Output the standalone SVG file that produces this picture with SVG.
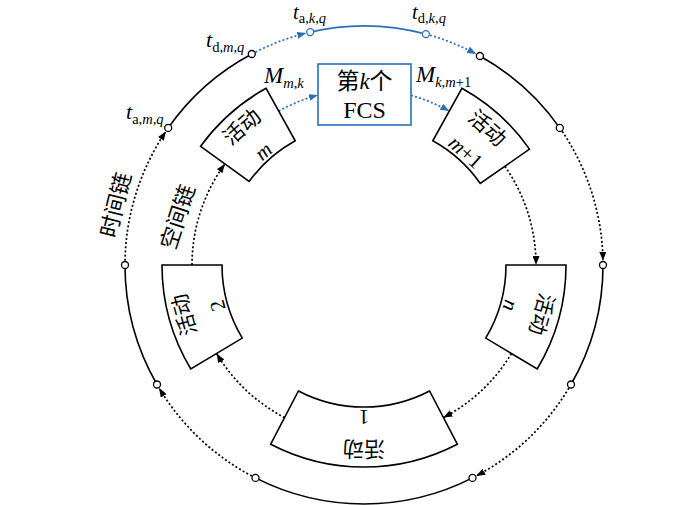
<svg xmlns="http://www.w3.org/2000/svg" width="700" height="505" viewBox="0 0 700 505">
<style>
.box{fill:#fff;stroke:#000;stroke-width:1.6}
.solid{fill:none;stroke:#000;stroke-width:1.6}
.solidb{fill:none;stroke:#2a6fb8;stroke-width:1.6}
.dot{fill:none;stroke:#000;stroke-width:1.7;stroke-dasharray:2 2.2}
.dotb{fill:none;stroke:#2a6fb8;stroke-width:1.7;stroke-dasharray:2 2.2}
.node{fill:#fff;stroke:#000;stroke-width:1.3}
.nodeb{fill:#fff;stroke:#2a6fb8;stroke-width:1.3}
text{font-family:"Liberation Serif","Noto Sans CJK SC",serif;fill:#000}
.c{text-anchor:middle;dominant-baseline:central;font-size:21px}
.i{font-style:italic}
.sub{font-size:14.5px}
.lbl{font-size:22px}
.lbt{font-size:20.5px}
.ml{font-size:23px}
</style>
<defs>
<marker id="ah" viewBox="0 0 9 7" refX="9" refY="3.5" markerWidth="9" markerHeight="7" orient="auto" markerUnits="userSpaceOnUse"><path d="M0,0 L9,3.5 L0,7 z" fill="#000"/></marker>
<marker id="ahb" viewBox="0 0 9 7" refX="9" refY="3.5" markerWidth="9" markerHeight="7" orient="auto" markerUnits="userSpaceOnUse"><path d="M0,0 L9,3.5 L0,7 z" fill="#2a6fb8"/></marker>
</defs>

<g id="connectors">
<path class="solid" d="M168.2,127.9 A239,239 0 0 1 251.8,54"/>
<path class="solidb" d="M310.2,32.1 A239,239 0 0 1 425.9,34.1"/>
<path class="solid" d="M479.9,56 A239,239 0 0 1 559.8,127.9"/>
<path class="solid" d="M603,265 A239,239 0 0 1 571,384.5"/>
<path class="solid" d="M472.5,477.9 A239,239 0 0 1 255.5,477.9"/>
<path class="solid" d="M157,384.5 A239,239 0 0 1 125,265"/>
<path class="dot" marker-end="url(#ah)" d="M125,265 A239,239 0 0 1 165.9,131.4"/>
<path class="dotb" marker-end="url(#ahb)" d="M251.8,54 A239,239 0 0 1 306.2,33.1"/>
<path class="dotb" marker-end="url(#ahb)" d="M425.9,34.1 A239,239 0 0 1 476.2,54"/>
<path class="dot" marker-end="url(#ah)" d="M559.8,127.9 A239,239 0 0 1 603,260.8"/>
<path class="dot" marker-end="url(#ah)" d="M571,384.5 A239,239 0 0 1 476.2,476"/>
<path class="dot" marker-end="url(#ah)" d="M255.5,477.9 A239,239 0 0 1 159.1,388.1"/>
<path class="dot" marker-end="url(#ah)" d="M192,265 A172,172 0 0 1 224.9,163.9"/>
<path class="dotb" marker-end="url(#ahb)" d="M278.7,111.1 A176,176 0 0 1 318,95.1"/>
<path class="dotb" marker-end="url(#ahb)" d="M411,95.4 A176,176 0 0 1 449.3,111.1"/>
<path class="dot" marker-end="url(#ah)" d="M504.9,166.3 A172,172 0 0 1 536,265"/>
<path class="dot" marker-end="url(#ah)" d="M511.4,353.6 A172,172 0 0 1 443.4,417.6"/>
<path class="dot" marker-end="url(#ah)" d="M284.6,417.6 A172,172 0 0 1 216.6,353.6"/>
</g>

<g id="time-nodes">
<circle class="node" cx="168.2" cy="127.9" r="3.5"/>
<circle class="node" cx="251.8" cy="54" r="3.5"/>
<circle class="nodeb" cx="310.2" cy="32.1" r="3.5"/>
<circle class="nodeb" cx="425.9" cy="34.1" r="3.5"/>
<circle class="node" cx="479.9" cy="56" r="3.5"/>
<circle class="node" cx="559.8" cy="127.9" r="3.5"/>
<circle class="node" cx="603" cy="265" r="3.5"/>
<circle class="node" cx="571" cy="384.5" r="3.5"/>
<circle class="node" cx="472.5" cy="477.9" r="3.5"/>
<circle class="node" cx="255.5" cy="477.9" r="3.5"/>
<circle class="node" cx="157" cy="384.5" r="3.5"/>
<circle class="node" cx="125" cy="265" r="3.5"/>
</g>

<g id="act-m">
<path class="box" d="M200.6,146.3 A202,202 0 0 1 266.1,88.3 L295.2,140.8 A142,142 0 0 0 249.1,181.5 Z"/>
<g transform="translate(364,265) rotate(-41.5)"><text class="c" x="0" y="-184">活动</text><text class="c i" x="0" y="-152">m</text></g>
</g>

<g id="fcs">
<rect x="318" y="64" width="93" height="61" fill="#fff" stroke="#2a6fb8" stroke-width="1.6"/>
<text x="364.5" y="89" text-anchor="middle" font-size="23">第<tspan class="i">k</tspan>个</text>
<text x="364.5" y="118" text-anchor="middle" font-size="24">FCS</text>
</g>

<g id="act-m1">
<path class="box" d="M461.9,88.3 A202,202 0 0 1 529.5,149.1 L480.3,183.5 A142,142 0 0 0 432.8,140.8 Z"/>
<g transform="translate(364,265) rotate(42)"><text class="c" x="0" y="-184">活动</text><text class="c" x="0" y="-152"><tspan class="i">m</tspan>+1</text></g>
</g>

<g id="act-n">
<path class="box" d="M566,265 A202,202 0 0 1 537.2,369 L485.7,338.1 A142,142 0 0 0 506,265 Z"/>
<g transform="translate(364,265) rotate(105.5)"><text class="c" x="0" y="-184">活动</text><text class="c i" x="0" y="-152">n</text></g>
</g>

<g id="act-1">
<path class="box" d="M457.3,444.2 A202,202 0 0 1 270.7,444.2 L298.4,391 A142,142 0 0 0 429.6,391 Z"/>
<g transform="translate(364,265) rotate(180)"><text class="c" x="0" y="-184">活动</text><text class="c" x="0" y="-152">1</text></g>
</g>

<g id="act-2">
<path class="box" d="M190.8,369 A202,202 0 0 1 162,265 L222,265 A142,142 0 0 0 242.3,338.1 Z"/>
<g transform="translate(364,265) rotate(254.5)"><text class="c" x="0" y="-186">活动</text><text class="c" x="0" y="-152">2</text></g>
</g>

<g id="labels">
<text class="lbl" x="126" y="119"><tspan class="i">t</tspan><tspan class="sub" dy="5">a,</tspan><tspan class="sub i">m</tspan><tspan class="sub">,</tspan><tspan class="sub i">q</tspan></text>
<text class="lbl" x="206" y="47"><tspan class="i">t</tspan><tspan class="sub" dy="5">d,</tspan><tspan class="sub i">m</tspan><tspan class="sub">,</tspan><tspan class="sub i">q</tspan></text>
<text class="lbt" x="293" y="19"><tspan class="i">t</tspan><tspan class="sub" dy="4">a,</tspan><tspan class="sub i">k</tspan><tspan class="sub">,</tspan><tspan class="sub i">q</tspan></text>
<text class="lbt" x="412" y="19"><tspan class="i">t</tspan><tspan class="sub" dy="4">d,</tspan><tspan class="sub i">k</tspan><tspan class="sub">,</tspan><tspan class="sub i">q</tspan></text>
<text class="ml" x="264" y="83"><tspan class="i">M</tspan><tspan class="sub i" dy="5">m</tspan><tspan class="sub">,</tspan><tspan class="sub i">k</tspan></text>
<text class="ml" x="416" y="82"><tspan class="i">M</tspan><tspan class="sub i" dy="5">k</tspan><tspan class="sub">,</tspan><tspan class="sub i">m</tspan><tspan class="sub">+1</tspan></text>
<text font-size="22" text-anchor="middle" dominant-baseline="central" transform="translate(116,205) rotate(-76)">时间链</text>
<text font-size="22" text-anchor="middle" dominant-baseline="central" transform="translate(178,217) rotate(-72)">空间链</text>
</g>
</svg>
